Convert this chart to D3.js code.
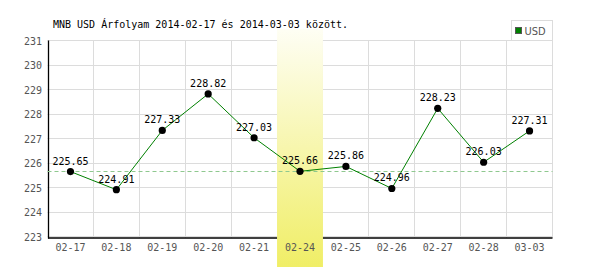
<!DOCTYPE html>
<html><head><meta charset="utf-8">
<script src="https://cdn.jsdelivr.net/npm/d3@7"></script>
<style>body{margin:0;background:#fff}svg{display:block}</style>
</head><body><svg id="c" width="600" height="270"></svg>
<script>
const categories = ["02-17","02-18","02-19","02-20","02-21","02-24","02-25","02-26","02-27","02-28","03-03"];
const values = [225.65,224.91,227.33,228.82,227.03,225.66,225.86,224.96,228.23,226.03,227.31];
const yTicks = [223,224,225,226,227,228,229,230,231];
const refValue = 225.65;
const highlightCategory = "02-24";
const title = "MNB USD Árfolyam 2014-02-17 és 2014-03-03 között.";
const seriesName = "USD";

const svg = d3.select("#c");
const font = "'DejaVu Sans Mono', monospace";
const L = 47.5, R = 552.5, T = 40.5, B = 236.5, axisY = 238;
const snap = v => Math.floor(v) + 0.5;

const x = d3.scaleBand().domain(categories).range([L, R]);
const y = d3.scaleLinear().domain([223, 231]).range([B, T]);

const defs = svg.append("defs");
const grad = defs.append("linearGradient").attr("id","hl").attr("x1",0).attr("y1",0).attr("x2",0).attr("y2",1);
grad.append("stop").attr("offset","0%").attr("stop-color","#fefef4");
grad.append("stop").attr("offset","100%").attr("stop-color","#f0ee66");

// grid
const g = svg.append("g");
g.selectAll(".hg").data(yTicks).join("line")
  .attr("x1", L).attr("x2", R).attr("y1", d => snap(y(d))).attr("y2", d => snap(y(d)))
  .attr("stroke", "#dcdcdc").attr("stroke-width", 1);
const vb = categories.map(c => x(c)).concat([R]);
g.selectAll(".vg").data(vb.slice(1)).join("line")
  .attr("x1", d => snap(d)).attr("x2", d => snap(d))
  .attr("y1", T).attr("y2", axisY)
  .attr("stroke", "#dcdcdc").attr("stroke-width", 1);

// axes lines
svg.append("line").attr("x1", 48.5).attr("x2", 48.5).attr("y1", T).attr("y2", axisY + 0.5)
  .attr("stroke", "#000").attr("stroke-width", 1.3);
svg.append("line").attr("x1", 48).attr("x2", R).attr("y1", axisY).attr("y2", axisY)
  .attr("stroke", "#000").attr("stroke-width", 1.3);

// highlight band
svg.append("rect").attr("x", x(highlightCategory)).attr("width", x.bandwidth())
  .attr("y", 29).attr("height", 238)
  .attr("fill", "url(#hl)");

// reference dashed line
svg.append("line").attr("x1", L).attr("x2", R).attr("y1", snap(y(refValue))).attr("y2", snap(y(refValue)))
  .attr("stroke", "#8fc88f").attr("stroke-width", 1).attr("stroke-dasharray", "4,3");

// y tick labels
svg.selectAll(".yl").data(yTicks).join("text")
  .attr("x", 42).attr("y", d => y(d) + 4).attr("text-anchor", "end")
  .attr("font-family", font).attr("font-size", 10).attr("fill", "#555").text(d => d);

// x tick labels
svg.selectAll(".xl").data(categories).join("text")
  .attr("x", d => x(d) + x.bandwidth()/2).attr("y", 251).attr("text-anchor", "middle")
  .attr("font-family", font).attr("font-size", 10).attr("fill", "#555").text(d => d);

// line
const line = d3.line().x((d,i) => x(categories[i]) + x.bandwidth()/2).y(d => y(d));
svg.append("path").datum(values).attr("d", line).attr("fill","none")
  .attr("stroke", "#008000").attr("stroke-width", 1);

// points
svg.selectAll(".pt").data(values).join("circle")
  .attr("cx", (d,i) => x(categories[i]) + x.bandwidth()/2).attr("cy", d => y(d))
  .attr("r", 3.6).attr("fill", "#000");

// value labels
svg.selectAll(".vl").data(values).join("text")
  .attr("x", (d,i) => x(categories[i]) + x.bandwidth()/2).attr("y", d => y(d) - 7)
  .attr("text-anchor", "middle").attr("font-family", font).attr("font-size", 10)
  .attr("fill", "#000").text(d => d.toFixed(2));

// title
svg.append("text").attr("x", 53).attr("y", 28).attr("font-family", font).attr("font-size", 10)
  .attr("fill", "#000").text(title);

// legend
svg.append("rect").attr("x", 511.5).attr("y", 20.5).attr("width", 41).attr("height", 20)
  .attr("fill", "#fff").attr("stroke", "#dcdcdc");
svg.append("rect").attr("x", 515.5).attr("y", 27.5).attr("width", 6).attr("height", 6)
  .attr("fill", "#008000").attr("stroke", "#555");
svg.append("text").attr("x", 524.5).attr("y", 34.5).attr("font-family", "'Liberation Sans Narrow','DejaVu Sans Condensed',sans-serif").attr("font-size", 11)
  .attr("fill", "#555").text(seriesName);
</script></body></html>
